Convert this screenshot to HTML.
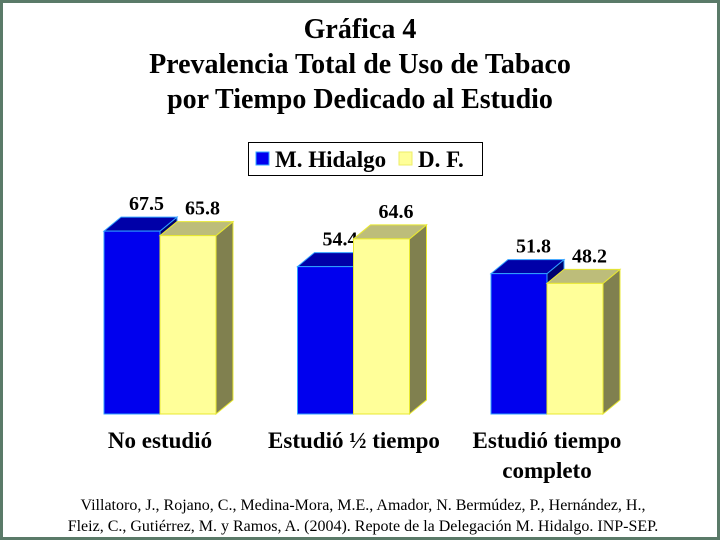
<!DOCTYPE html>
<html><head><meta charset="utf-8"><style>
body{margin:0;width:720px;height:540px;overflow:hidden;background:#fff}
svg{display:block}
text{font-family:"Liberation Serif",serif}
</style></head><body>
<svg width="720" height="540">
<rect x="1.5" y="1.5" width="717" height="537" fill="#fff" stroke="#5a7a68" stroke-width="3"/>
<g font-weight="bold" font-size="28" text-anchor="middle">
<text x="360" y="38">Gráfica 4</text>
<text x="360" y="73">Prevalencia Total de Uso de Tabaco</text>
<text x="360" y="108">por Tiempo Dedicado al Estudio</text>
</g>
<g>
<rect x="248.5" y="142.5" width="234" height="33" fill="#fff" stroke="#000"/>
<rect x="256" y="152" width="13" height="13" fill="#0000ee" stroke="#3af"/>
<text x="275" y="167" font-size="23" font-weight="bold">M. Hidalgo</text>
<rect x="399" y="152" width="13" height="13" fill="#ffff99" stroke="#ee6"/>
<text x="418" y="167" font-size="23" font-weight="bold">D. F.</text>
</g>
<g id="bars"></g>
<g font-weight="bold" font-size="23" text-anchor="middle">
<text x="160" y="448">No estudió</text>
<text x="354" y="448">Estudió ½ tiempo</text>
<text x="547" y="448">Estudió tiempo</text>
<text x="547" y="478">completo</text>
</g>
<g font-size="16" text-anchor="middle">
<text x="363" y="510">Villatoro, J., Rojano, C., Medina-Mora, M.E., Amador, N. Bermúdez, P., Hernández, H.,</text>
<text x="363" y="531">Fleiz, C., Gutiérrez, M. y Ramos, A. (2004). Repote de la Delegación M. Hidalgo. INP-SEP.</text>
</g>
</svg>
<script>
const categories=["No estudió","Estudió ½ tiempo","Estudió tiempo completo"];
const hidalgo=[67.5,54.4,51.8];
const df=[65.8,64.6,48.2];
const base=414, scale=2.71, bw=56, dx=17, dy=-14;
function y(v){return base-v*scale;}
function gx(i){return 104+i*193.5;}
const g=document.getElementById('bars');
const NS="http://www.w3.org/2000/svg";
function poly(pts,fill,stroke,name){const p=document.createElementNS(NS,'polygon');p.setAttribute('points',pts.map(a=>a.join(',')).join(' '));p.setAttribute('fill',fill);p.setAttribute('stroke',stroke);p.setAttribute('stroke-width','1');


g.appendChild(p);}
function bar(x,v,c,name){const t=y(v);
poly([[x+bw,t],[x+bw+dx,t+dy],[x+bw+dx,base+dy],[x+bw,base]],c[2],c[3],name+'-side');
poly([[x,t],[x+dx,t+dy],[x+bw+dx,t+dy],[x+bw,t]],c[1],c[3],name+'-top');
poly([[x,t],[x+bw,t],[x+bw,base],[x,base]],c[0],c[3],name);
const tx=document.createElementNS(NS,'text');tx.setAttribute('x',x+bw/2+dx/2+6);tx.setAttribute('y',t+dy-7);tx.setAttribute('text-anchor','middle');tx.setAttribute('font-size','20');tx.setAttribute('font-weight','bold');tx.textContent=v.toFixed(1);


g.appendChild(tx);}
for(let i=0;i<categories.length;i++){
 bar(gx(i),hidalgo[i],['#0000ee','#0000a8','#000070','#30a0ff'],'bar-hidalgo-'+i);
 bar(gx(i)+bw,df[i],['#ffff99','#bdbd7a','#80804f','#e8e830'],'bar-df-'+i);
}
</script>
</body></html>
